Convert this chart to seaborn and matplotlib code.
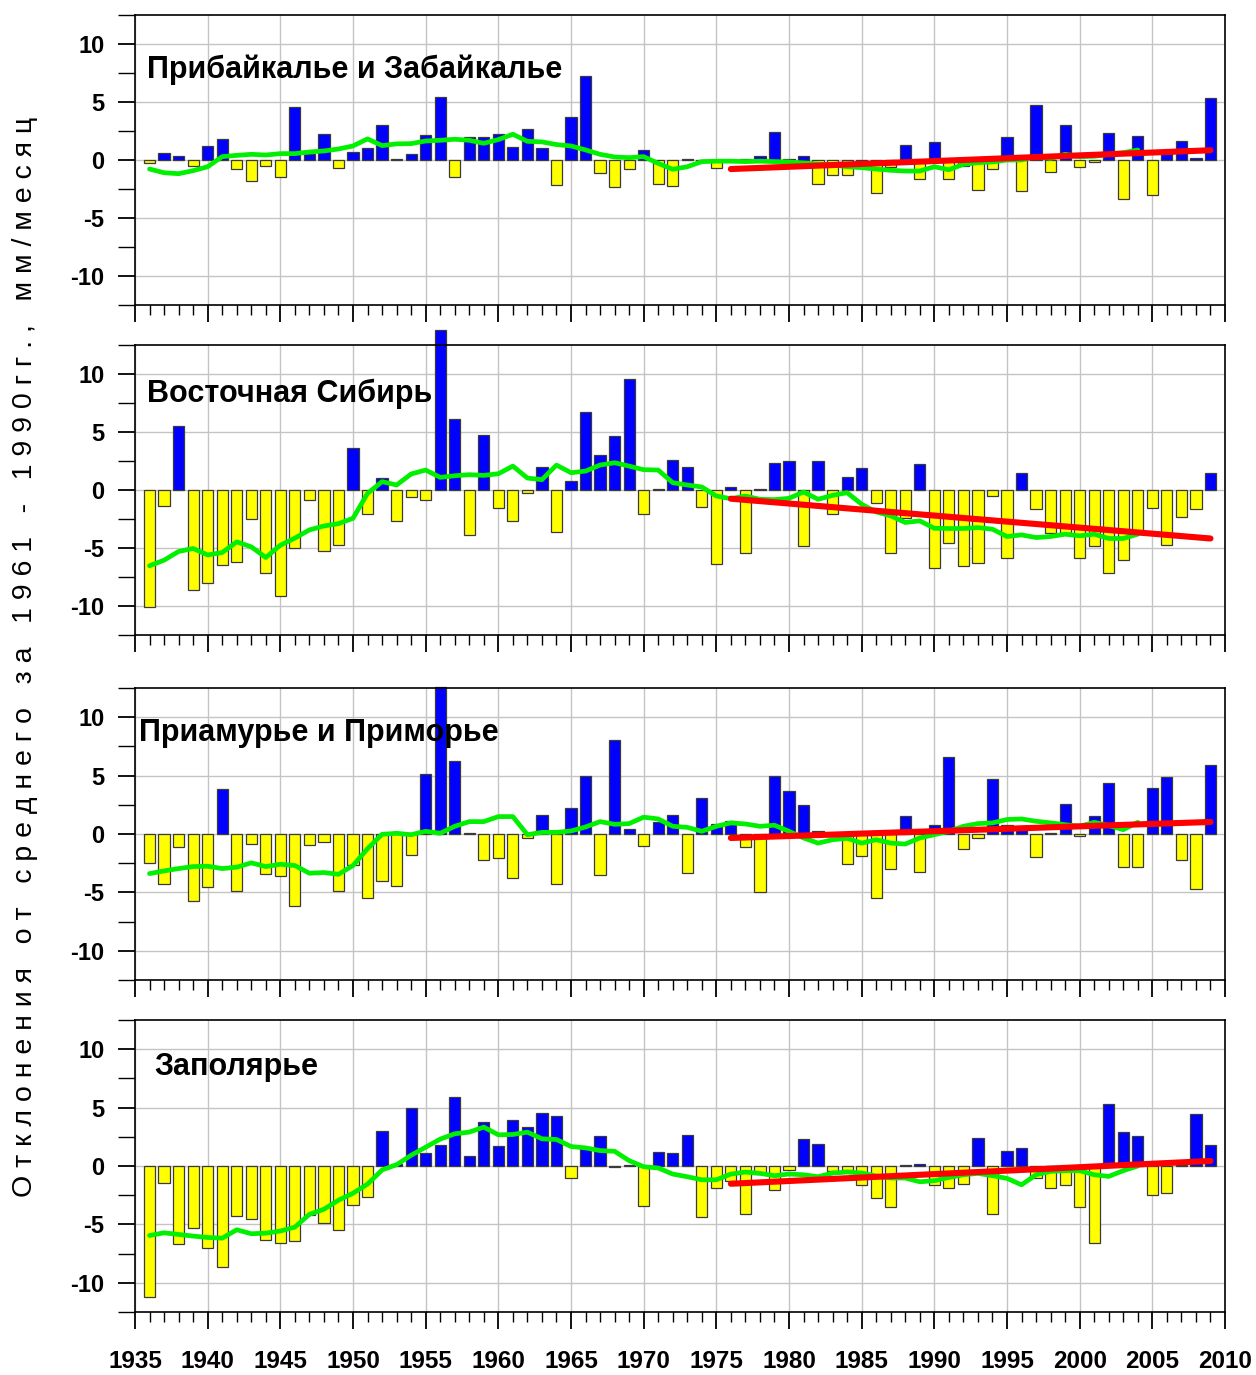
import numpy as np
import pandas as pd
import matplotlib
matplotlib.use("Agg")
import matplotlib.pyplot as plt
from matplotlib.ticker import MultipleLocator
import seaborn as sns

# ---------------- data ----------------
years = list(range(1936, 2010))
smooth_years = list(range(1936, 2005))
trend_years = [1976, 2009]

titles = ["Прибайкалье и Забайкалье", "Восточная Сибирь",
          "Приамурье и Приморье", "Заполярье"]

bars_baikal = [-0.3, 0.6, 0.35, -0.5, 1.25, 1.8, -0.8, -1.85, -0.55, -1.5,
               4.55, 0.5, 2.2, -0.7, 0.7, 1.05, 3.05, 0.05, 0.55, 2.15,
               5.45, -1.5, 1.95, 1.95, 2.25, 1.15, 2.65, 1.05, -2.15, 3.7,
               7.25, -1.15, -2.3, -0.8, 0.9, -2.1, -2.2, 0.1, -0.1, -0.7,
               -0.1, 0.05, 0.35, 2.4, 0.05, 0.35, -2.1, -1.3, -1.25, -0.3,
               -2.85, -0.6, 1.3, -1.65, 1.55, -1.65, -0.5, -2.6, -0.8, 2.0,
               -2.7, 4.75, -1.05, 3.05, -0.6, -0.15, 2.3, -3.4, 2.05, -3.0,
               0.5, 1.65, 0.15, 5.35]
smooth_baikal = [-0.78, -1.1, -1.18, -0.92, -0.58, 0.29, 0.4, 0.49, 0.43, 0.55,
                 0.55, 0.69, 0.78, 0.95, 1.21, 1.82, 1.24, 1.39, 1.41, 1.64,
                 1.7, 1.79, 1.7, 1.44, 1.76, 2.22, 1.61, 1.56, 1.33, 1.21,
                 0.87, 0.49, 0.26, 0.2, 0.29, -0.29, -0.8, -0.58, -0.14, -0.1,
                 -0.1, -0.14, -0.1, -0.14, -0.17, -0.26, -0.35, -0.43, -0.58, -0.66,
                 -0.78, -0.89, -0.95, -0.95, -0.58, -0.84, -0.37, -0.23, -0.17, 0.0,
                 0.0, 0.32, 0.14, 0.49, 0.29, 0.32, 0.49, 0.63, 0.86]
trend_baikal = [-0.78, 0.84]

bars_esib = [-10.1, -1.35, 5.55, -8.65, -8.05, -6.5, -6.2, -2.5, -7.15, -9.1,
             -5.0, -0.9, -5.3, -4.7, 3.65, -2.05, 1.05, -2.7, -0.6, -0.9,
             13.8, 6.15, -3.85, 4.75, -1.55, -2.65, -0.25, 2.0, -3.65, 0.8,
             6.7, 3.05, 4.65, 9.55, -2.1, 0.05, 2.55, 2.0, -1.45, -6.35,
             0.25, -5.4, 0.1, 2.3, 2.5, -4.85, 2.5, -2.05, 1.15, 1.9,
             -1.15, -5.45, -2.4, 2.2, -6.75, -4.55, -6.55, -6.25, -0.5, -5.85,
             1.5, -1.65, -3.7, -3.7, -5.85, -4.8, -7.15, -6.0, -3.8, -1.55,
             -4.7, -2.3, -1.65, 1.5]
smooth_esib = [-6.53, -6.05, -5.3, -5.04, -5.6, -5.39, -4.47, -4.9, -5.82, -4.76,
               -4.15, -3.44, -3.1, -2.9, -2.44, -0.29, 0.72, 0.43, 1.38, 1.72,
               1.09, 1.23, 1.32, 1.26, 1.4, 2.06, 1.03, 0.89, 2.15, 1.49,
               1.63, 2.15, 2.35, 2.06, 1.75, 1.72, 0.63, 0.43, 0.26, -0.52,
               -0.75, -0.52, -0.8, -0.83, -0.72, -0.17, -0.8, -0.46, -0.23, -1.23,
               -1.89, -2.23, -2.8, -2.66, -3.3, -3.32, -3.32, -3.24, -3.38, -4.01,
               -3.87, -4.1, -4.01, -3.81, -3.95, -3.81, -4.18, -4.18, -3.81]
trend_esib = [-0.75, -4.18]

bars_amur = [-2.45, -4.3, -1.1, -5.7, -4.55, 3.85, -4.85, -0.85, -3.45, -3.6,
             -6.2, -0.9, -0.7, -4.85, -2.65, -5.5, -4.0, -4.45, -1.8, 5.1,
             12.6, 6.25, 0.1, -2.2, -2.05, -3.75, -0.3, 1.65, -4.25, 2.25,
             4.95, -3.5, 8.05, 0.4, -1.05, 1.0, 1.65, -3.3, 3.1, 0.85,
             1.1, -1.1, -5.0, 4.95, 3.7, 2.5, 0.25, -0.15, -2.6, -1.85,
             -5.45, -3.0, 1.5, -3.25, 0.8, 6.55, -1.3, -0.35, 4.75, 0.75,
             0.6, -2.0, 0.1, 2.55, -0.15, 1.55, 4.4, -2.8, -2.8, 3.9,
             4.9, -2.25, -4.75, 5.95]
smooth_amur = [-3.39, -3.16, -2.96, -2.79, -2.76, -2.96, -2.84, -2.47, -2.79, -2.59,
               -2.7, -3.36, -3.3, -3.45, -2.7, -1.26, -0.03, 0.06, -0.06, 0.23,
               0.06, 0.66, 1.06, 1.06, 1.49, 1.49, -0.06, 0.14, 0.14, 0.26,
               0.6, 1.06, 0.83, 0.89, 1.44, 1.29, 0.66, 0.57, 0.23, 0.66,
               0.95, 0.86, 0.66, 0.75, 0.23, -0.34, -0.78, -0.49, -0.37, -0.78,
               -0.49, -0.78, -0.86, -0.34, -0.06, 0.23, 0.66, 0.89, 0.95, 1.24,
               1.29, 1.09, 0.95, 0.8, 0.66, 1.0, 0.72, 0.37, 1.0]
trend_amur = [-0.34, 1.03]

bars_polar = [-11.2, -1.45, -6.65, -5.35, -7.0, -8.65, -4.3, -4.55, -6.3, -6.55,
              -6.45, -4.2, -4.85, -5.5, -3.35, -2.65, 3.0, 0.2, 5.0, 1.1,
              1.8, 5.9, 0.85, 3.8, 1.75, 3.95, 3.3, 4.55, 4.25, -1.0,
              1.6, 2.6, -0.1, 0.1, -3.4, 1.2, 1.1, 2.65, -4.4, -1.85,
              -1.25, -4.15, -0.7, -2.05, -0.35, 2.3, 1.9, -0.4, -0.3, -1.6,
              -2.75, -3.55, 0.05, 0.15, -1.65, -1.85, -1.5, 2.4, -4.1, 1.3,
              1.5, -1.05, -1.9, -1.6, -3.5, -6.6, 5.3, 2.95, 2.55, -2.45,
              -2.35, 0.05, 4.45, 1.8]
smooth_polar = [-5.95, -5.72, -5.86, -6.0, -6.12, -6.18, -5.46, -5.8, -5.75, -5.57,
                -5.23, -4.14, -3.7, -2.93, -2.33, -1.55, -0.34, 0.11, 0.92, 1.61,
                2.3, 2.76, 2.9, 3.33, 2.67, 2.7, 2.9, 2.33, 2.27, 1.67,
                1.55, 1.32, 1.26, 0.46, -0.06, -0.17, -0.69, -0.92, -1.18, -1.18,
                -0.69, -0.52, -0.63, -0.83, -0.69, -0.75, -0.92, -0.6, -0.52, -0.6,
                -0.86, -1.03, -1.03, -1.35, -1.26, -0.98, -0.75, -0.63, -0.83, -1.06,
                -1.61, -0.75, -0.46, -0.4, -0.4, -0.75, -0.89, -0.4, 0.0]
trend_polar = [-1.52, 0.43]

panel_bars = [bars_baikal, bars_esib, bars_amur, bars_polar]
panel_smooth = [smooth_baikal, smooth_esib, smooth_amur, smooth_polar]
panel_trend = [trend_baikal, trend_esib, trend_amur, trend_polar]

ylabel = "Отклонения от среднего за 1961 - 1990гг., мм/месяц"
year_ticks = list(range(1935, 2011, 5))
y_ticks = [-10, -5, 0, 5, 10]

# ---------------- style ----------------
sns.set_style("white")
plt.rcParams["font.family"] = ["Liberation Sans", "DejaVu Sans"]
plt.rcParams["text.color"] = "black"
plt.rcParams["xtick.color"] = "black"
plt.rcParams["ytick.color"] = "black"

W, H = 1256, 1375
fig = plt.figure(figsize=(W / 100, H / 100), dpi=100)

# pixel boxes (top, bottom) of the four panels
boxes = [(15, 305), (345, 635), (688, 980), (1020, 1312)]
left_px, right_px = 135, 1225
title_pos = [(0.011, 0.81), (0.011, 0.83), (0.004, 0.846), (0.018, 0.84)]

BLUE = "#0000ff"
YELLOW = "#ffff00"
GREEN = "#00f000"
RED = "#ff0000"

for i in range(4):
    top, bot = boxes[i]
    ax = fig.add_axes([left_px / W, 1 - bot / H, (right_px - left_px) / W, (bot - top) / H])
    df = pd.DataFrame({"year": years, "value": panel_bars[i]})
    df["sign"] = np.where(df["value"] >= 0, "pos", "neg")
    sns.barplot(data=df, x="year", y="value", hue="sign",
                palette={"pos": BLUE, "neg": YELLOW}, native_scale=True,
                dodge=False, width=0.77, edgecolor="#3a3a3a", linewidth=0.9,
                saturation=1, legend=False, ax=ax, zorder=2)
    for p in ax.patches:
        p.set_clip_on(False)
    sm = pd.DataFrame({"year": smooth_years, "value": panel_smooth[i]})
    sns.lineplot(data=sm, x="year", y="value", color=GREEN, linewidth=3.4,
                 ax=ax, zorder=3)
    tr = pd.DataFrame({"year": trend_years, "value": panel_trend[i]})
    sns.lineplot(data=tr, x="year", y="value", color=RED, linewidth=4.4,
                 ax=ax, zorder=4, solid_capstyle="round")

    ax.set_xlim(1935, 2010)
    ax.set_ylim(-12.5, 12.5)
    ax.set_xticks(year_ticks)
    ax.xaxis.set_minor_locator(MultipleLocator(1))
    ax.set_yticks(y_ticks)
    ax.yaxis.set_minor_locator(MultipleLocator(2.5))
    ax.set_yticklabels([str(t) for t in y_ticks], fontsize=17, fontweight="bold",
                       color="black")
    if i == 3:
        ax.set_xticklabels([str(t) for t in year_ticks], fontsize=17.5,
                           fontweight="bold", color="black")
    else:
        ax.set_xticklabels([])
    ax.tick_params(axis="both", which="both", bottom=True, left=True,
                   top=False, right=False, colors="black")
    ax.tick_params(axis="x", which="major", direction="out", length=12, width=1.3,
                   pad=15)
    ax.tick_params(axis="x", which="minor", direction="out", length=7, width=1.0)
    ax.tick_params(axis="y", which="major", direction="out", length=12, width=1.3, pad=10)
    ax.tick_params(axis="y", which="minor", direction="out", length=12, width=1.0)
    ax.set_xlabel("")
    ax.set_ylabel("")
    ax.grid(True, which="major", color="#c4c4c4", linewidth=1.0, zorder=0)
    ax.set_axisbelow(True)
    for s in ax.spines.values():
        s.set_color("black")
        s.set_linewidth(1.2)
        s.set_visible(True)
    ax.text(title_pos[i][0], title_pos[i][1], titles[i], transform=ax.transAxes,
            fontsize=22, fontweight="bold", ha="left", va="center", zorder=6,
            color="black")

spaced = " ".join(list(ylabel))
fig.text(0.02, 0.522, spaced, rotation=90, ha="center", va="center", fontsize=20.5,
         color="black")

fig.savefig("out.png", dpi=100)
